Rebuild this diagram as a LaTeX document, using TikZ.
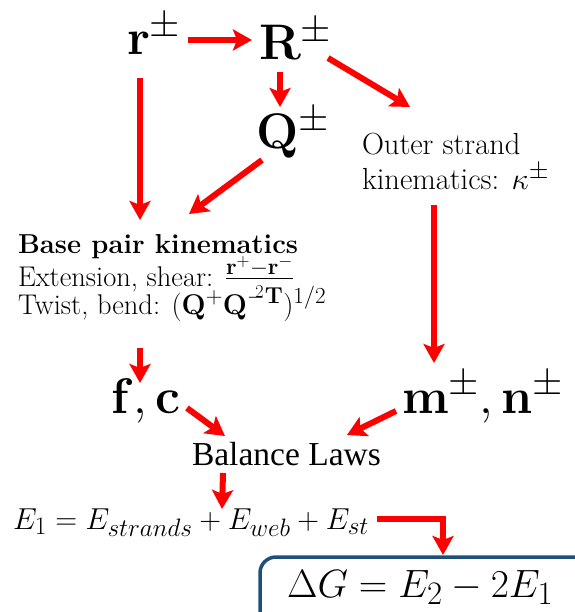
\RequirePackage{fix-cm}
\documentclass[tikz,border=0pt]{standalone}
\usepackage{amsmath}
\usepackage{exscale}
\usepackage[no-math]{fontspec}
\newfontfamily\balfont{Liberation Serif}
\usetikzlibrary{arrows.meta}
\DeclareMathSizes{50}{50}{39}{33}
\DeclareMathSizes{30.5}{30.5}{25.3}{21}
\DeclareMathSizes{28.5}{28.5}{23}{18}
\DeclareMathSizes{30.3}{30.3}{25.2}{21}
\DeclareMathSizes{39.5}{39.5}{32.8}{27.5}
\definecolor{boxblue}{RGB}{31,78,121}
\tikzset{
  txt/.style={anchor=base west, inner sep=0pt, outer sep=0pt},
  big/.style={txt, font=\fontsize{50}{60}\selectfont},
  mid/.style={txt, font=\fontsize{30.5}{36}\selectfont},
  small/.style={txt, font=\fontsize{28.5}{34}\selectfont},
  arr/.style={draw=red, line width=6pt, line join=miter,
    -{Stealth[length=19pt,width=21pt,inset=4pt]}},
}
\begin{document}
\begin{tikzpicture}[x=1pt,y=-1pt]
\useasboundingbox (0,0) rectangle (574,612);
% nodes
\node[big] (r) at (127,55) {$\mathbf{r}^{\pm}$};
\node[big] (R) at (259,60) {$\mathbf{R}^{\pm}$};
\node[big] (Q) at (256,149) {$\mathbf{Q}^{\pm}$};
\node[mid] (out1) at (362,155) {Outer strand};
\node[mid] (out2) at (362,190) {kinematics: $\kappa^{\pm}$};
\node[txt, font=\fontsize{27.4}{33}\selectfont] (bp1) at (18,253) {\bfseries Base pair kinematics};
\node[small] (bp2) at (18,286) {Extension, shear: $\tfrac{\mathbf{r}^{+}-\mathbf{r}^{-}}{\raisebox{-2pt}{$\scriptscriptstyle 2$}}$};
\node[small] (bp3) at (18,314) {Twist, bend: $(\mathbf{Q}^{+}\mathbf{Q}^{-\mathbf{T}})^{1/2}$};
\node[big] (fc) at (111,413) {$\mathbf{f},\mathbf{c}$};
\node[big] (mn) at (402,413) {$\mathbf{m}^{\pm},\mathbf{n}^{\pm}$};
\node[txt, font=\balfont\fontsize{33.5}{40}\selectfont] (bal) at (192,465) {Balance Laws};
\node[txt, font=\fontsize{30.3}{36}\selectfont] (E) at (13,529) {$E_1=E_{strands}+E_{web}+E_{st}$};
\node[txt, font=\fontsize{39.5}{47}\selectfont] (DG) at (287,597) {$\Delta G=E_2-2E_1$};
\draw[boxblue, line width=3.5pt, rounded corners=16pt] ([shift={(-27,-40)}]DG.base west) rectangle ([shift={(40,30)}]DG.base east);
% arrows
\draw[arr] ([shift={(61,-15)}]r.base west) -- ([shift={(-7,-20)}]R.base west);
\draw[arr] ([shift={(21,12)}]R.base west) -- ([shift={(24,-42)}]Q.base west);
\draw[arr] ([shift={(69,-2)}]R.base west) -- ([shift={(48,-48)}]out1.base west);
\draw[arr] ([shift={(13,23)}]r.base west) -- ([shift={(122,-33)}]bp1.base west);
\draw[arr] ([shift={(6,11)}]Q.base west) -- ([shift={(171,-39)}]bp1.base west);
\draw[arr] ([shift={(72,15)}]out2.base west) -- ([shift={(32,-50)}]mn.base west);
\draw[arr] ([shift={(122,34)}]bp3.base west) -- ([shift={(29,-30)}]fc.base west);
\draw[arr] ([shift={(76,-5)}]fc.base west) -- ([shift={(33,-29)}]bal.base west);
\draw[arr] ([shift={(-6,-2)}]mn.base west) -- ([shift={(155,-30)}]bal.base west);
\draw[arr] ([shift={(31,8)}]bal.base west) -- ([shift={(209,-20)}]E.base west);
\draw[arr] ([shift={(364,-10)}]E.base west) -| ([shift={(156,-42)}]DG.base west);
\end{tikzpicture}
\end{document}
